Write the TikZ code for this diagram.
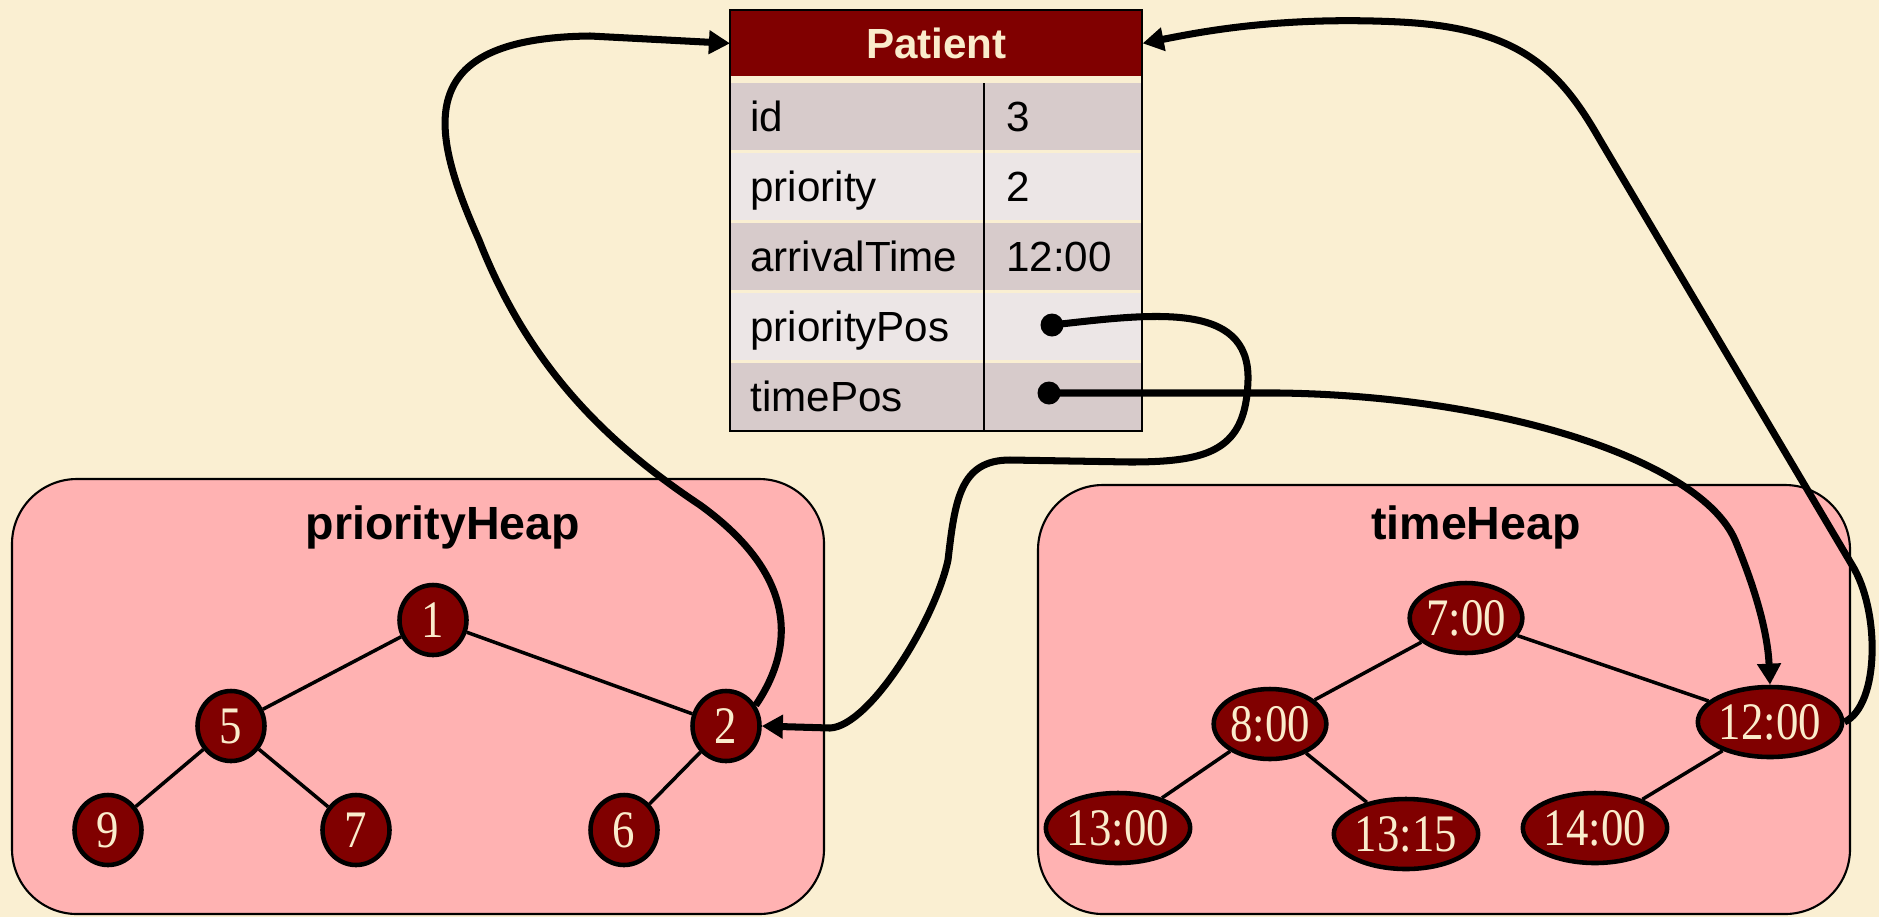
\documentclass[tikz,border=0pt]{standalone}
\usepackage{fontspec}
\setmainfont{Liberation Serif}
\setsansfont{Liberation Sans}
\newfontfamily\keyfont[FakeStretch=0.85]{Liberation Serif}
\usetikzlibrary{arrows.meta,shapes.geometric}

\definecolor{paper}{RGB}{250,239,210}
\definecolor{maroon}{RGB}{128,0,0}
\definecolor{cream}{RGB}{250,236,204}
\definecolor{heappink}{RGB}{255,178,178}
\definecolor{rowdark}{RGB}{215,203,203}
\definecolor{rowlight}{RGB}{236,230,230}

\begin{document}
\begin{tikzpicture}[x=0.02cm,y=-0.02cm,
  heapnode/.style={ellipse,draw=black,line width=2.6pt,fill=maroon,text=cream,
    minimum width=1.34cm,minimum height=1.4cm,inner xsep=0pt,inner ysep=0pt,
    font=\keyfont\fontsize{30}{30}\selectfont},
  heapbox/.style={draw=black,line width=1.2pt,fill=heappink,rounded corners=1.3cm},
  heaptitle/.style={font=\sffamily\bfseries\fontsize{26.5}{26.5}\selectfont},
  edge/.style={line width=2pt},
  cell/.style={anchor=base west,inner sep=0pt,font=\sffamily\fontsize{24}{24}\selectfont},
  ptr/.style={line width=4pt,-{Triangle[length=12pt,width=13pt]}},
  dot/.style={circle,fill=black,inner sep=0pt,minimum size=0.46cm}]

 \fill[paper] (0,0) rectangle (1879,917);
 \useasboundingbox (0,0) rectangle (1879,917);

 % the two heaps
 \draw[heapbox] (12,479) rectangle (824,914);
 \draw[heapbox] (1038,485) rectangle (1850,914);
 \node[heaptitle] (ptitle) at (443,527) {priorityHeap};
 \node[heaptitle] (ttitle) at (1476,527) {timeHeap};

 \foreach \n/\x/\y/\t in {p1/433/620/1, p5/231/726/5, p2/726/726/2,
   p9/108/830/9, p7/356/830/7, p6/624/830/6,
   t7/1466/618/7:00, t8/1270/724/8:00, t12/1770/722/12:00,
   t13/1118/828/13:00, t1315/1406/834/13:15, t14/1595/828/14:00}
  \node[heapnode] (\n) at (\x,\y) {\t};
 \foreach \a/\b in {p1/p5,p1/p2,p5/p9,p5/p7,p2/p6,
   t7/t8,t7/t12,t8/t13,t8/t1315,t12/t14}
  \draw[edge] (\a) -- (\b);

 % the Patient record
 \node[fill=maroon,text=cream,anchor=north west,minimum width=8.24cm,
   minimum height=1.32cm,font=\sffamily\bfseries\fontsize{24}{24}\selectfont]
   (patient) at (730,10) {Patient};
 \foreach \i/\f/\v/\c in {0/id/3/rowdark, 1/priority/2/rowlight,
   2/arrivalTime/12:00/rowdark, 3/priorityPos//rowlight, 4/timePos//rowdark} {
  \fill[\c] (730,{83+70*\i}) rectangle (1142,{150+70*\i});
  \node[cell] (f\i) at (750,{131+70*\i}) {\f};
  \node[cell] (v\i) at (1006,{131+70*\i}) {\v};
 }
 \draw[line width=1.3pt] (730,10) rectangle (1142,431);
 \draw[line width=1.1pt] (984,83) -- (984,431);
 \node[dot] (ppos) at (1052,325) {};
 \node[dot] (tpos) at (1049,393) {};

 % pointers
 \draw[ptr] (p2.35) .. controls (800,640) and (790,570) .. (700,505)
   .. controls (610,445) and (530,370) .. (479,240)
   .. controls (430,130) and (410,38) .. (590,36) -- (patient.west);
 \draw[ptr] (t12.east) .. controls (1880,705) and (1880,610) .. (1852,565)
   -- (1600,140) .. controls (1560,70) and (1520,28) .. (1400,22)
   .. controls (1280,16) and (1200,32) .. (patient.east);
 \draw[ptr] (ppos.center) .. controls (1150,314) and (1250,300) .. (1248,380)
   .. controls (1246,450) and (1210,462) .. (1130,462) -- (1010,460)
   .. controls (960,460) and (955,500) .. (948,560)
   .. controls (935,620) and (870,726) .. (830,728) -- (p2.east);
 \draw[ptr] (tpos.center) -- (1280,393)
   .. controls (1500,396) and (1700,460) .. (1735,540)
   .. controls (1760,600) and (1768,640) .. (t12.north);
\end{tikzpicture}
\end{document}
